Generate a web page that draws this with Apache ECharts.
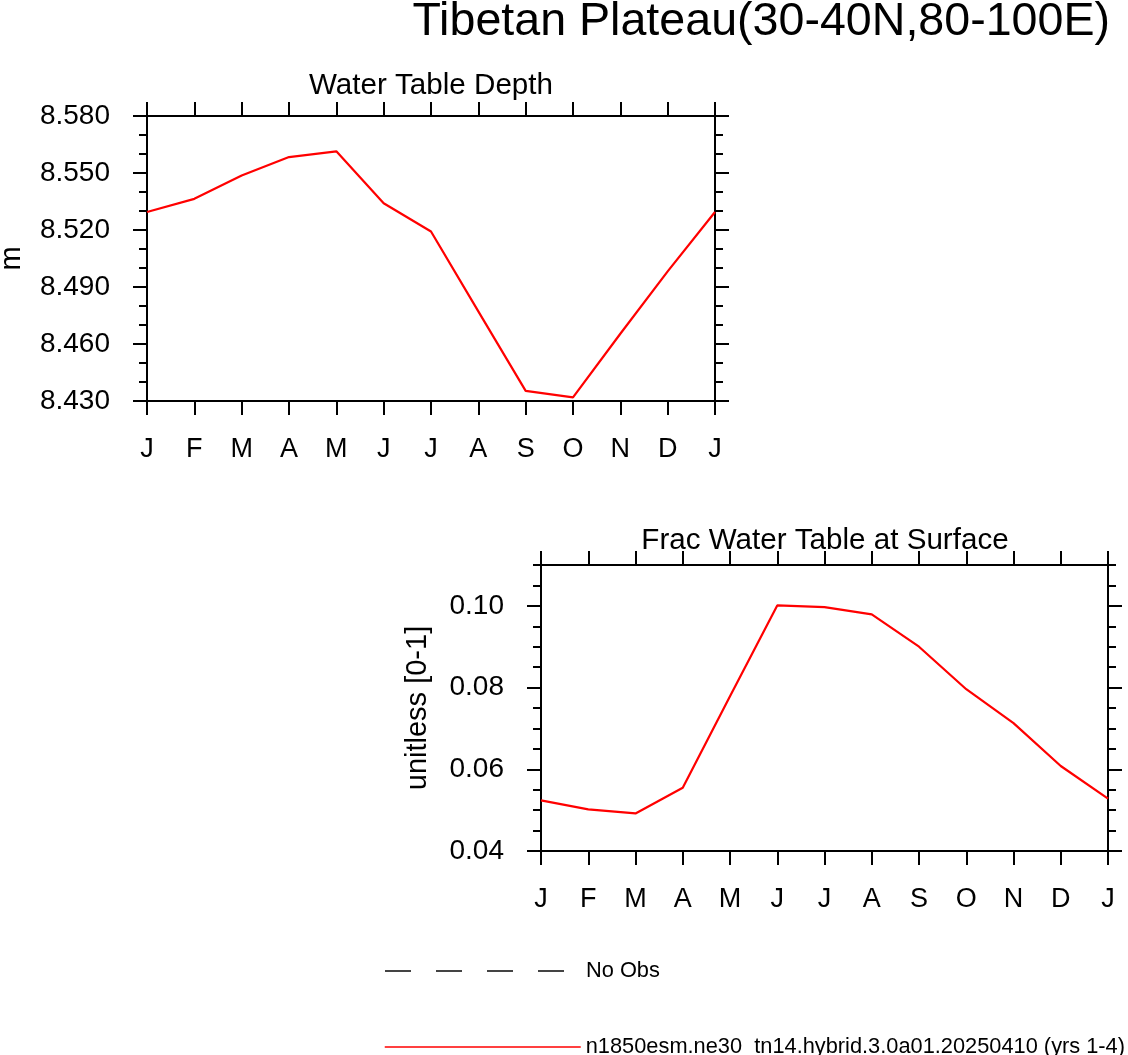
<!DOCTYPE html>
<html>
<head>
<meta charset="utf-8">
<script src="https://cdn.jsdelivr.net/npm/echarts@6/dist/echarts.min.js"></script>
<style>
  html, body { margin: 0; padding: 0; background: #fff; }
  #chart { width: 1128px; height: 1055px; }
</style>
</head>
<body>
<div id="chart"></div>
<script>
// monthly climatology, J..D plus January again to close the cycle
const months = ['J', 'F', 'M', 'A', 'M', 'J', 'J', 'A', 'S', 'O', 'N', 'D', 'J']
const depthValues = [8.5295, 8.5364, 8.5487, 8.5584, 8.5614, 8.5341, 8.5192, 8.4772, 8.4353, 8.4319, 8.4654, 8.4982, 8.5295]
const fracValues = [0.0524, 0.0502, 0.0492, 0.0555, 0.0779, 0.1001, 0.0997, 0.0979, 0.0900, 0.0796, 0.0713, 0.0608, 0.0528]
const depthTicks = [8.43, 8.46, 8.49, 8.52, 8.55, 8.58]
const fracTicks = [0.04, 0.06, 0.08, 0.10]
const caseName = 'n1850esm.ne30_tn14.hybrid.3.0a01.20250410 (yrs 1-4)'
const obsName = 'No Obs'

const FONT = 'Liberation Sans'
const black = { color: '#000', width: 2 }

const chart = echarts.init(document.getElementById('chart'))

// bottom axis with month labels + plain top axis to close the box
function monthAxes(gridIndex) {
  const base = {
    type: 'value', gridIndex, min: 0, max: 12, interval: 1,
    splitLine: { show: false },
    axisLine: { onZero: false, lineStyle: black },
    axisTick: { length: 14, lineStyle: black }
  }
  return [
    { ...base, position: 'bottom',
      axisLabel: { margin: 35, fontSize: 27, color: '#000', fontFamily: FONT,
        formatter: v => months[Math.round(v)] } },
    { ...base, position: 'top', axisLabel: { show: false } }
  ]
}

// left/right axes: one carries the short (minor) ticks, the other the long ticks and labels
function valueAxes(gridIndex, min, max, minorStep, ticks, digits, name, nameGap) {
  const out = []
  ;['left', 'right'].forEach(pos => {
    out.push({
      type: 'value', gridIndex, position: pos, min, max, interval: minorStep,
      splitLine: { show: false },
      axisLine: { onZero: false, lineStyle: black },
      axisTick: { length: 8, lineStyle: black },
      axisLabel: { show: false }
    })
    out.push({
      type: 'value', gridIndex, position: pos, min, max,
      splitLine: { show: false },
      axisLine: { show: false, onZero: false },
      axisTick: { length: 14, lineStyle: black, customValues: ticks },
      axisLabel: pos === 'left'
        ? { customValues: ticks, margin: 37, fontSize: 28, color: '#000', fontFamily: FONT,
            formatter: v => v.toFixed(digits) }
        : { show: false },
      name: pos === 'left' ? name : '',
      nameLocation: 'middle',
      nameRotate: 90,
      nameGap,
      nameTextStyle: { fontSize: 29, color: '#000', fontFamily: FONT }
    })
  })
  return out
}

const titleStyle = size => ({ fontSize: size, fontWeight: 'normal', color: '#000', fontFamily: FONT })
const legendText = { fontSize: 21.8, color: '#000', fontFamily: FONT }

chart.setOption({
  animation: false,
  backgroundColor: '#fff',
  title: [
    { text: 'Tibetan Plateau(30-40N,80-100E)', right: 18, top: -1, padding: 0, textStyle: titleStyle(46.6) },
    { text: 'Water Table Depth', left: 431, top: 71, padding: 0, textAlign: 'center', textStyle: titleStyle(29.6) },
    { text: 'Frac Water Table at Surface', left: 825, top: 526, padding: 0, textAlign: 'center', textStyle: titleStyle(29.6) }
  ],
  legend: [
    { data: [obsName], left: 384, top: 960, padding: 0, itemWidth: 196, itemHeight: 14,
      itemStyle: { opacity: 0 }, textStyle: legendText, selectedMode: false },
    { data: [caseName], left: 384, top: 1036, padding: 0, itemWidth: 196, itemHeight: 14,
      itemStyle: { opacity: 0 }, lineStyle: { width: 1.5 }, textStyle: legendText, selectedMode: false }
  ],
  grid: [
    { left: 147, top: 116, width: 568, height: 285, outerBoundsMode: 'none', containLabel: false },
    { left: 541, top: 565, width: 567, height: 286, outerBoundsMode: 'none', containLabel: false }
  ],
  xAxis: [...monthAxes(0), ...monthAxes(1)],
  yAxis: [
    ...valueAxes(0, 8.43, 8.58, 0.01, depthTicks, 3, 'm', 121),
    ...valueAxes(1, 0.04, 0.11, 0.005, fracTicks, 2, 'unitless [0-1]', 109)
  ],
  series: [
    { type: 'line', name: caseName, xAxisIndex: 0, yAxisIndex: 0, symbol: 'none',
      data: depthValues.map((v, i) => [i, v]),
      lineStyle: { color: '#ff0000', width: 2.2 }, itemStyle: { color: '#ff0000' } },
    { type: 'line', name: caseName, xAxisIndex: 2, yAxisIndex: 4, symbol: 'none',
      data: fracValues.map((v, i) => [i, v]),
      lineStyle: { color: '#ff0000', width: 2.2 }, itemStyle: { color: '#ff0000' } },
    { type: 'line', name: obsName, xAxisIndex: 0, yAxisIndex: 0, symbol: 'none', data: [],
      lineStyle: { color: '#444', width: 1.5, type: [26, 25] }, itemStyle: { color: '#444' } }
  ]
})
</script>
</body>
</html>
